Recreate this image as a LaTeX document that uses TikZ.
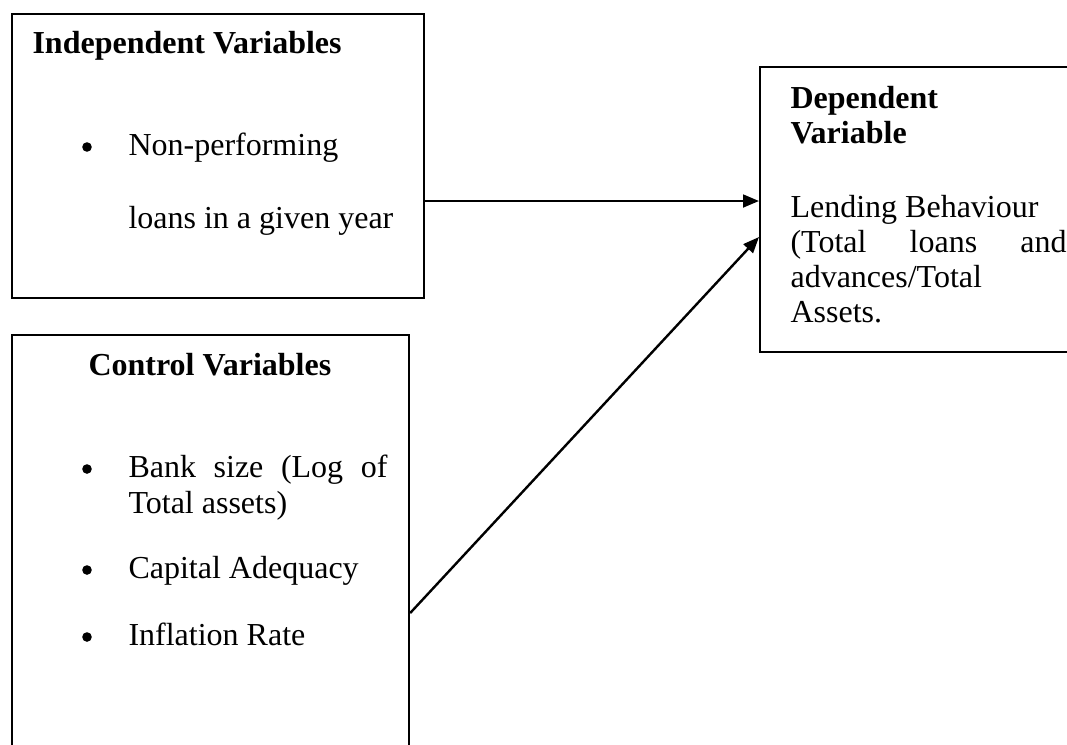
\documentclass[tikz,border=0pt]{standalone}
\usepackage{fontspec}
\setmainfont{Liberation Serif}
\usetikzlibrary{arrows.meta,calc}
\begin{document}
\begin{tikzpicture}[x=0.375pt,y=-0.375pt,
  box/.style={draw,line width=0.8pt,inner sep=0pt,anchor=north west},
  txt/.style={anchor=base west,inner sep=0pt,font=\fontsize{12}{14}\selectfont},
  hd/.style={txt,font=\fontsize{12}{14}\selectfont\bfseries},
  bul/.style={circle,fill,inner sep=0pt,minimum size=3.6pt},
  arr/.style={line width=0.9pt,-{Triangle[length=6pt,width=4.8pt]}}]
\useasboundingbox (0,0) rectangle (1067,744);
\clip (0,0) rectangle (1067,744);
% boxes
\node[box,minimum width=154.5pt,minimum height=106.5pt] (ind) at (11,13) {};
\node[box,minimum width=120pt,minimum height=106.9pt] (dep) at (759,66) {};
\node[box,minimum width=148.9pt,minimum height=160pt] (ctl) at (11,334) {};
% independent
\node[hd] (indh) at (32,53) {Independent Variables};
\node[bul] (b1) at (87,147) {};
\node[txt] (i1) at (128,155) {Non-performing};
\node[txt] (i2) at (128,228) {loans in a given year};
% dependent
\node[hd] (deph1) at (790,108) {Dependent};
\node[hd] (deph2) at (790,143) {Variable};
\node[txt] (d1) at (790,217) {Lending Behaviour};
\node[txt] (d2) at (790,252) {\makebox[103.5pt][s]{(Total loans and}};
\node[txt] (d3) at (790,287) {advances/Total};
\node[txt] (d4) at (790,322) {Assets.};
% control
\node[hd] (ctlh) at (88,375) {Control Variables};
\node[bul] (b2) at (87,469) {};
\node[txt] (c1) at (128,477) {\makebox[97.1pt][s]{Bank size (Log of}};
\node[txt] (c2) at (128,513) {Total assets)};
\node[bul] (b3) at (87,570) {};
\node[txt] (c3) at (128,578) {Capital Adequacy};
\node[bul] (b4) at (87,637) {};
\node[txt] (c4) at (128,645) {Inflation Rate};
% connectors
\coordinate (s1) at ($(ind.north east)+(0,188)$);
\coordinate (t1) at ($(dep.north west)+(0,135)$);
\coordinate (s2) at ($(ctl.north east)+(0,279)$);
\coordinate (t2) at ($(dep.north west)+(0,171)$);
\draw[arr] (s1) -- (t1);
\draw[arr] (s2) -- (t2);
\end{tikzpicture}
\end{document}
